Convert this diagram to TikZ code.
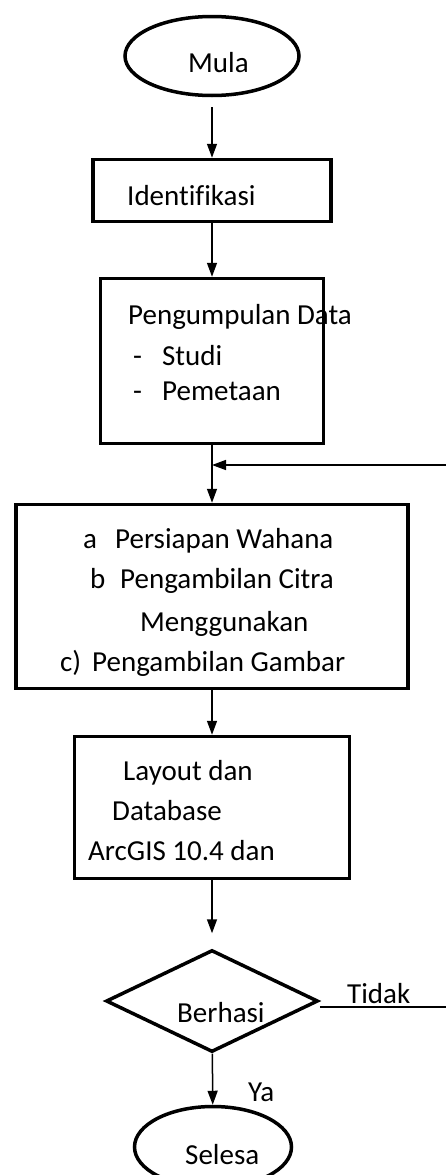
\documentclass[tikz,border=0pt]{standalone}
\usepackage{fontspec}
\setmainfont{Carlito}[Ligatures=NoCommon]
\usetikzlibrary{shapes.geometric,arrows.meta}

\begin{document}
\begin{tikzpicture}[
    x=1pt, y=-1pt,
    every node/.style={font=\fontsize{29}{35}\selectfont},
    terminal/.style={ellipse, draw, line width=3.5pt, inner sep=0pt},
    box/.style={rectangle, draw, line width=3.5pt, inner sep=0pt},
    decision/.style={diamond, draw, line width=3.5pt, inner sep=0pt},
    txt/.style={anchor=base west, inner sep=0pt},
    arrow/.style={-{Triangle[length=14pt,width=10pt]}, line width=1.5pt},
    garis/.style={line width=1.2pt}
]
\clip (0,0) rectangle (446,1175);

% Bentuk
\node[terminal, minimum width=174pt, minimum height=79pt] (mula) at (212,56) {};
\node[box, minimum width=238pt, minimum height=62pt] (iden) at (212,190.5) {};
\node[box, minimum width=223pt, minimum height=165pt] (kumpul) at (212,361) {};
\node[box, minimum width=392pt, minimum height=184pt] (siap) at (212,596.5) {};
\node[box, minimum width=275pt, minimum height=142pt] (layout) at (212,807.5) {};
\node[decision, minimum width=212pt, minimum height=102pt] (cek) at (212,1001) {};
\node[terminal, minimum width=157pt, minimum height=81pt] (selesa) at (213,1147) {};

% Teks
\node[txt] (mulaT) at (188,72) {Mula};
\node[txt] (idenT) at (127,205) {Identifikasi};
\node[txt] (kumpulT) at (128,324) {Pengumpulan Data};
\node[txt] (studiT) at (133,365) {\makebox[29pt][l]{-}Studi};
\node[txt] (petaT) at (133,400) {\makebox[29pt][l]{-}Pemetaan};
\node[txt] (siapA) at (83,548) {\makebox[32pt][l]{a}Persiapan Wahana};
\node[txt] (siapB) at (90,588) {\makebox[30pt][l]{b}Pengambilan Citra};
\node[txt] (siapB2) at (140,631) {Menggunakan};
\node[txt] (siapC) at (60,671) {\makebox[32pt][l]{c)}Pengambilan Gambar};
\node[txt] (layoutA) at (123,780) {Layout dan};
\node[txt] (layoutB) at (112,820) {Database};
\node[txt] (layoutC) at (88,860) {ArcGIS 10.4 dan};
\node[txt] (cekT) at (177,1022) {Berhasi};
\node[txt] (tidakT) at (347,1003) {Tidak};
\node[txt] (yaT) at (248,1101) {Ya};
\node[txt] (selesaT) at (185,1164) {Selesa};

% Titik bantu di tepi kanan
\coordinate (balik) at (446,465);
\coordinate (tidak) at (446,1007);

% Panah
\draw[arrow, shorten <=10pt] (mula) -- (iden);
\draw[arrow] (iden) -- (kumpul);
\draw[arrow] (kumpul) -- (siap);
\draw[arrow] (balik) -- (kumpul.south |- balik);
\draw[arrow] (siap) -- (layout);
\draw[arrow, shorten >=15pt] (layout) -- (cek);
\draw[garis] (cek.east |- tidak) -- (tidak);
\draw[arrow] (cek) -- (selesa);

\end{tikzpicture}
\end{document}
